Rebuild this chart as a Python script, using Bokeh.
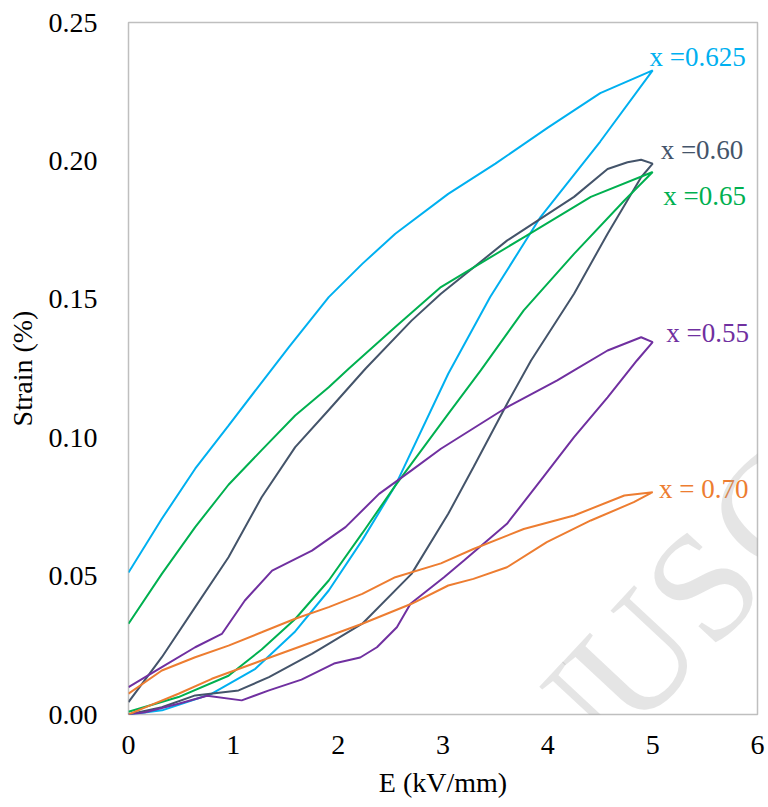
from bokeh.plotting import figure
from bokeh.models import Range1d, FixedTicker, Label, ColumnDataSource
from bokeh.core.properties import value
from bokeh.embed import file_html
from bokeh.resources import INLINE

# ---------------- data ----------------
x_ticks = [0, 1, 2, 3, 4, 5, 6]
x_tick_labels = ["0", "1", "2", "3", "4", "5", "6"]
y_ticks = [0.0, 0.05, 0.10, 0.15, 0.20, 0.25]
y_tick_labels = ["0.00", "0.05", "0.10", "0.15", "0.20", "0.25"]

# x = 0.625 (loop: rising branch then falling branch)
e_0625 = [0, 0.32, 0.795, 1.21, 1.59, 1.91, 2.23, 2.545, 3.05, 3.45, 3.93, 4.5, 5.0,
          4.5, 4.0, 3.5, 3.05, 2.545, 2.23, 1.91, 1.53, 1.37, 0.954, 0.636, 0.318, 0]
s_0625 = [0, 0.0015, 0.0075, 0.0165, 0.030, 0.0448, 0.063, 0.0827, 0.1231, 0.1508, 0.1797, 0.207, 0.2327,
          0.2245, 0.212, 0.199, 0.1881, 0.1737, 0.1628, 0.1508, 0.1327, 0.1249, 0.1044, 0.0888, 0.0707, 0.0513]

# x = 0.60
e_060 = [0, 0.318, 0.636, 1.05, 1.34, 1.75, 2.23, 2.70, 3.05, 3.29, 3.61, 3.84, 4.25, 4.57, 4.89, 5.0,
         4.89, 4.76, 4.57, 4.25, 3.61, 2.98, 2.70, 2.26, 1.91, 1.59, 1.27, 0.954, 0.636, 0.318, 0]
s_060 = [0, 0.0026, 0.0069, 0.0087, 0.0135, 0.0219, 0.0328, 0.0508, 0.0725, 0.0893, 0.1122, 0.1279, 0.152, 0.1737, 0.1941, 0.1990,
         0.2004, 0.1995, 0.1971, 0.187, 0.1712, 0.152, 0.1423, 0.1249, 0.110, 0.0966, 0.0785, 0.0568, 0.0388, 0.0207, 0.0045]

# x = 0.65
e_065 = [0, 0.477, 0.954, 1.27, 1.59, 1.91, 2.23, 2.545, 3.05, 3.36, 3.77, 4.25, 4.73, 5.0,
         4.41, 3.77, 2.98, 2.545, 2.10, 1.91, 1.59, 1.27, 0.954, 0.636, 0.318, 0]
s_065 = [0.001, 0.0063, 0.0140, 0.0235, 0.0345, 0.0484, 0.0655, 0.0827, 0.1086, 0.1243, 0.146, 0.1664, 0.1857, 0.196,
         0.187, 0.1724, 0.1544, 0.140, 0.1249, 0.1182, 0.1080, 0.0955, 0.0830, 0.0677, 0.0508, 0.0328]

# x = 0.55
e_055 = [0, 0.16, 0.477, 0.75, 1.08, 1.34, 1.65, 1.96, 2.21, 2.37, 2.56, 2.69, 2.85, 3.01, 3.20, 3.61, 3.93, 4.25, 4.57, 4.85, 5.0,
         4.89, 4.57, 4.25, 4.09, 3.61, 2.98, 2.70, 2.39, 2.07, 1.75, 1.37, 1.11, 0.89, 0.636, 0.318, 0]
s_055 = [0, 0.0008, 0.0039, 0.0068, 0.0051, 0.0087, 0.0126, 0.0184, 0.0206, 0.0243, 0.0315, 0.040, 0.0448, 0.0496, 0.0556, 0.0689, 0.0845, 0.1002, 0.1146, 0.1279, 0.1345,
         0.1363, 0.1315, 0.1243, 0.1207, 0.111, 0.096, 0.0882, 0.0797, 0.0677, 0.0592, 0.052, 0.0412, 0.0291, 0.0243, 0.0171, 0.0099]

# x = 0.70
e_070 = [0, 0.16, 0.477, 0.795, 1.27, 1.75, 2.23, 2.70, 3.05, 3.29, 3.61, 3.99, 4.41, 4.82, 5.0,
         4.73, 4.25, 3.77, 3.29, 2.98, 2.545, 2.23, 1.91, 1.59, 1.27, 0.954, 0.636, 0.318, 0]
s_070 = [0, 0.0026, 0.0075, 0.0129, 0.0195, 0.0261, 0.0328, 0.040, 0.0466, 0.049, 0.0532, 0.0623, 0.0701, 0.0767, 0.0803,
         0.0791, 0.0719, 0.067, 0.0598, 0.0546, 0.0496, 0.0436, 0.0388, 0.0346, 0.0297, 0.0249, 0.0207, 0.0159, 0.0075]

series_names = ["x =0.625", "x =0.60", "x =0.65", "x =0.55", "x = 0.70"]
series_colors = ["#00B0F0", "#44546A", "#00B050", "#7030A0", "#ED7D31"]
label_e = [4.97, 5.076, 5.10, 5.13, 5.06]
label_s = [0.2374, 0.2038, 0.1875, 0.138, 0.0813]

# watermark letters (faint, rotated), placed on the canvas (pixels from top-left)
wm_letters = ["N", "U", "S", "C"]
wm_cx = [563, 634, 702, 770]
wm_cy = [733, 657, 585, 510]

# ---------------- figure ----------------
FONT = "'Liberation Serif'"
p = figure(frame_width=629, frame_height=692, output_backend="svg", toolbar_location=None,
           x_range=Range1d(0, 6), y_range=Range1d(0, 0.25),
           min_border_left=128, min_border_right=11, min_border_top=22, min_border_bottom=93)
p.background_fill_color = "white"
p.border_fill_color = "white"
p.outline_line_color = "#BFBFBF"
p.outline_line_width = 1.5
p.xgrid.visible = False
p.ygrid.visible = False

curves = [(e_0625, s_0625), (e_060, s_060), (e_065, s_065), (e_055, s_055), (e_070, s_070)]
for (e, s), c in zip(curves, series_colors):
    p.line(e, s, line_color=c, line_width=2)

lab_src = ColumnDataSource(dict(x=label_e, y=label_s, t=series_names, c=series_colors))
p.text(x="x", y="y", text="t", text_color="c", source=lab_src,
       text_font=value(FONT), text_font_size="27px",
       text_align="left", text_baseline="middle")

for ch, cx, cy in zip(wm_letters, wm_cx, wm_cy):
    p.add_layout(Label(x=cx, y=cy, x_units="canvas", y_units="canvas",
                       text=ch, angle=47, angle_units="deg",
                       text_font=FONT, text_font_size="155px", text_color="#A0A0A0",
                       text_alpha=0.28, text_align="center", text_baseline="middle",
                       level="overlay"))

for ax in (p.xaxis[0], p.yaxis[0]):
    ax.axis_line_color = None
    ax.major_tick_line_color = None
    ax.minor_tick_line_color = None
    ax.major_tick_out = 0
    ax.major_tick_in = 0
    ax.minor_tick_out = 0
    ax.minor_tick_in = 0
    ax.major_label_text_font = FONT
    ax.major_label_text_font_size = "28px"
    ax.major_label_text_color = "black"
    ax.axis_label_text_font = FONT
    ax.axis_label_text_font_size = "28px"
    ax.axis_label_text_font_style = "normal"
    ax.axis_label_text_color = "black"

p.xaxis.ticker = FixedTicker(ticks=x_ticks)
p.xaxis.major_label_overrides = {t: l for t, l in zip(x_ticks, x_tick_labels)}
p.yaxis.ticker = FixedTicker(ticks=y_ticks)
p.yaxis.major_label_overrides = {t: l for t, l in zip(y_ticks, y_tick_labels)}
p.xaxis.axis_label = "E (kV/mm)"
p.yaxis.axis_label = "Strain (%)"
p.xaxis.major_label_standoff = 21
p.yaxis.major_label_standoff = 31
p.xaxis.axis_label_standoff = 10
p.yaxis.axis_label_standoff = 8

open("out.html", "w").write(file_html(p, INLINE))
